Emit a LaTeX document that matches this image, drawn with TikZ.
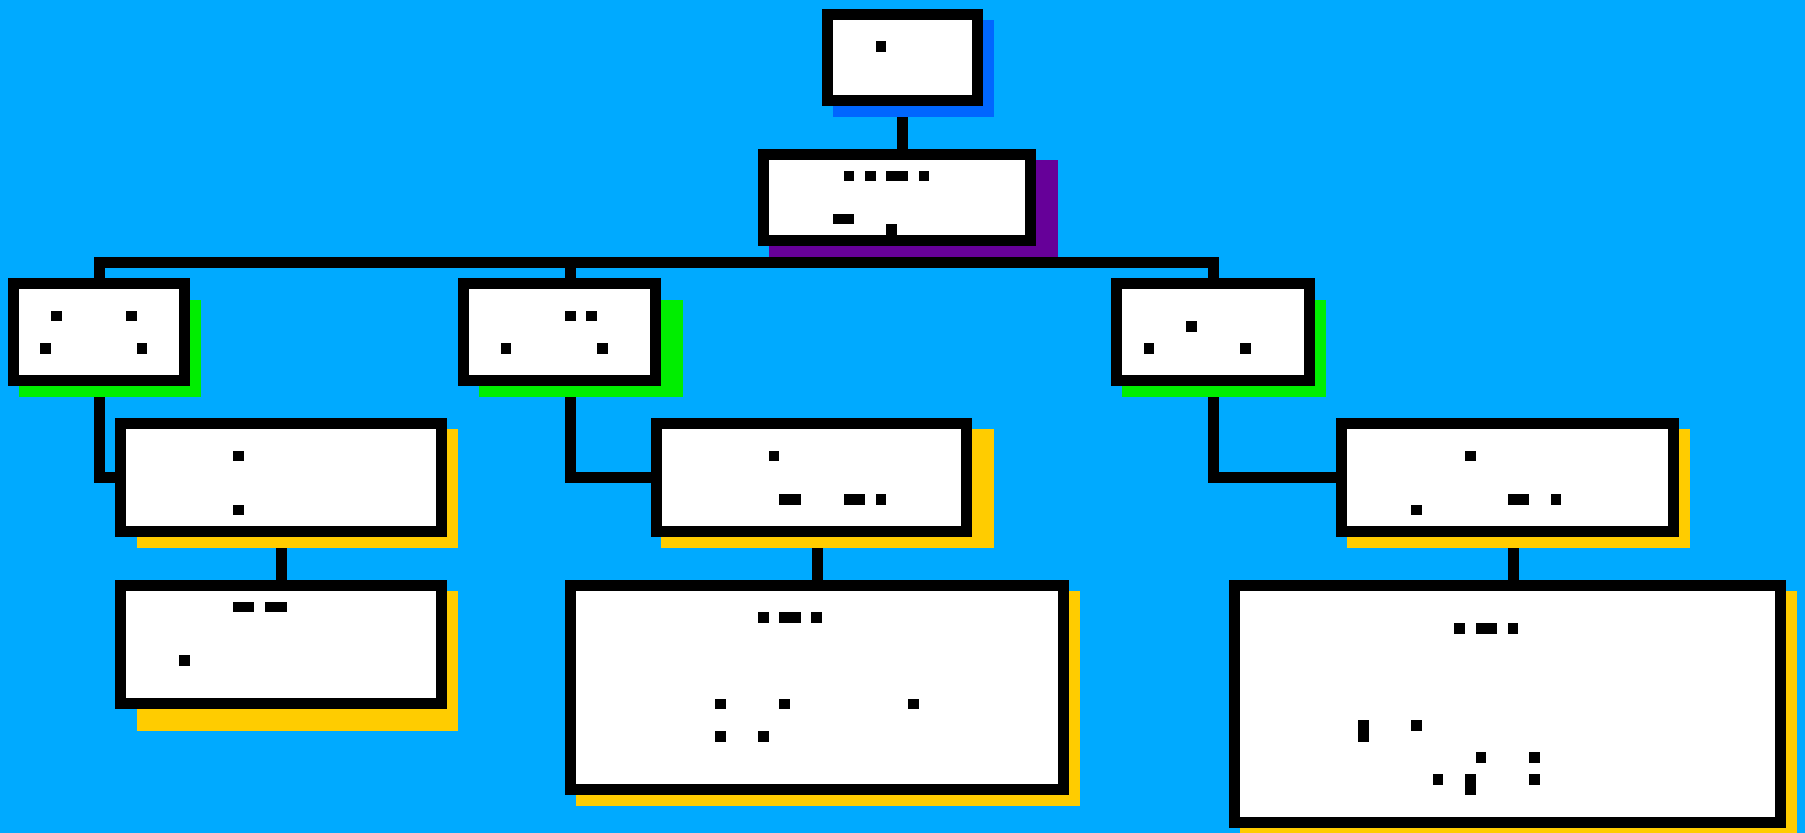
\documentclass[tikz,border=0pt]{standalone}
\begin{document}
\begin{tikzpicture}[x=0.5pt,y=-0.5pt,
  pbox/.style={inner sep=0pt,outer sep=0pt,rectangle},
  boxline/.style={draw=black,fill=white,line width=5.5pt},
  wire/.style={draw=black,line width=5.5pt,line join=miter},
  dot/.style={fill=black}]
\definecolor{bg}{RGB}{0,170,255}
\definecolor{shblue}{RGB}{0,102,255}
\definecolor{shpurple}{RGB}{102,0,153}
\definecolor{shgreen}{RGB}{0,238,0}
\definecolor{shyellow}{RGB}{255,204,0}
\fill[bg] (0,0) rectangle (1805,833);
\useasboundingbox (0,0) rectangle (1805,833);
% node placement (boxes drawn later over shadows)
\path
 node[pbox,minimum width=75pt,minimum height=43pt] (A) at (902.5,57.5) {}
 node[pbox,minimum width=133.5pt,minimum height=43pt] (B) at (897,197.5) {}
 node[pbox,minimum width=85.5pt,minimum height=48.5pt] (C1) at (99,332) {}
 node[pbox,minimum width=96pt,minimum height=48.5pt] (C2) at (559.5,332) {}
 node[pbox,minimum width=96.5pt,minimum height=48.5pt] (C3) at (1213,332) {}
 node[pbox,minimum width=160.5pt,minimum height=54pt] (D1) at (281,477.5) {}
 node[pbox,minimum width=155pt,minimum height=54pt] (D2) at (811.5,477.5) {}
 node[pbox,minimum width=166pt,minimum height=54pt] (D3) at (1507.5,477.5) {}
 node[pbox,minimum width=160.5pt,minimum height=59pt] (E1) at (281,644.5) {}
 node[pbox,minimum width=246.5pt,minimum height=102pt] (E2) at (817,687.5) {}
 node[pbox,minimum width=273pt,minimum height=118.5pt] (E3) at (1507.5,704) {};
\coordinate (bus) at (897,262.5);
\coordinate (c2x) at (570.5,0);
\coordinate (e3x) at (1513,0);
% connectors
\draw[wire] (A.south) -- (A.south |- B.north);
\draw[wire] (B.south) -- (bus);
\draw[wire] (C1.north) -- (C1.north |- bus) -- (C3.north |- bus) -- (C3.north);
\draw[wire] (c2x |- bus) -- (c2x |- C2.north);
\draw[wire] (C1.south) |- (D1.west);
\draw[wire] (c2x |- C2.south) |- (D2.west);
\draw[wire] (C3.south) |- (D3.west);
\draw[wire] (D1.south) -- (E1.north);
\draw[wire] (E2.north |- D2.south) -- (E2.north);
\draw[wire] (e3x |- D3.south) -- (e3x |- E3.north);
% shadows
\fill[shblue] (833,20) rectangle (994,117);
\fill[shpurple] (769,160) rectangle (1058,257);
\fill[shgreen] (19,300) rectangle (201,397);
\fill[shgreen] (479,300) rectangle (683,397);
\fill[shgreen] (1122,300) rectangle (1326,397);
\fill[shyellow] (137,429) rectangle (458,548);
\fill[shyellow] (661,429) rectangle (994,548);
\fill[shyellow] (1347,429) rectangle (1690,548);
\fill[shyellow] (137,591) rectangle (458,731);
\fill[shyellow] (576,591) rectangle (1080,806);
\fill[shyellow] (1240,591) rectangle (1797,833);
% boxes
\foreach \n in {A,B,C1,C2,C3,D1,D2,D3,E1,E2,E3}{
  \draw[boxline] (\n.south west) rectangle (\n.north east);}
% marks inside boxes
\fill[dot] (876,41) rectangle (886,52);
\fill[dot] (844,171) rectangle (854,181);
\fill[dot] (865,171) rectangle (876,181);
\fill[dot] (886,171) rectangle (908,181);
\fill[dot] (919,171) rectangle (929,181);
\fill[dot] (833,214) rectangle (854,224);
\fill[dot] (886,224) rectangle (897,241);
\fill[dot] (51,311) rectangle (62,321);
\fill[dot] (126,311) rectangle (137,321);
\fill[dot] (40,343) rectangle (51,354);
\fill[dot] (137,343) rectangle (147,354);
\fill[dot] (565,311) rectangle (576,321);
\fill[dot] (586,311) rectangle (597,321);
\fill[dot] (501,343) rectangle (511,354);
\fill[dot] (597,343) rectangle (608,354);
\fill[dot] (1186,321) rectangle (1197,332);
\fill[dot] (1144,343) rectangle (1154,354);
\fill[dot] (1240,343) rectangle (1251,354);
\fill[dot] (233,451) rectangle (244,461);
\fill[dot] (233,505) rectangle (244,515);
\fill[dot] (233,602) rectangle (254,612);
\fill[dot] (265,602) rectangle (287,612);
\fill[dot] (179,655) rectangle (190,666);
\fill[dot] (769,451) rectangle (779,461);
\fill[dot] (779,494) rectangle (801,505);
\fill[dot] (844,494) rectangle (865,505);
\fill[dot] (876,494) rectangle (886,505);
\fill[dot] (758,612) rectangle (769,623);
\fill[dot] (779,612) rectangle (801,623);
\fill[dot] (811,612) rectangle (822,623);
\fill[dot] (715,699) rectangle (726,709);
\fill[dot] (779,699) rectangle (790,709);
\fill[dot] (908,699) rectangle (919,709);
\fill[dot] (715,731) rectangle (726,742);
\fill[dot] (758,731) rectangle (769,742);
\fill[dot] (1465,451) rectangle (1476,461);
\fill[dot] (1508,494) rectangle (1529,505);
\fill[dot] (1551,494) rectangle (1561,505);
\fill[dot] (1411,505) rectangle (1422,515);
\fill[dot] (1454,623) rectangle (1465,634);
\fill[dot] (1476,623) rectangle (1497,634);
\fill[dot] (1508,623) rectangle (1518,634);
\fill[dot] (1358,720) rectangle (1369,742);
\fill[dot] (1411,720) rectangle (1422,731);
\fill[dot] (1476,752) rectangle (1486,763);
\fill[dot] (1529,752) rectangle (1540,763);
\fill[dot] (1433,774) rectangle (1443,785);
\fill[dot] (1529,774) rectangle (1540,785);
\fill[dot] (1465,774) rectangle (1476,795);
\end{tikzpicture}
\end{document}
